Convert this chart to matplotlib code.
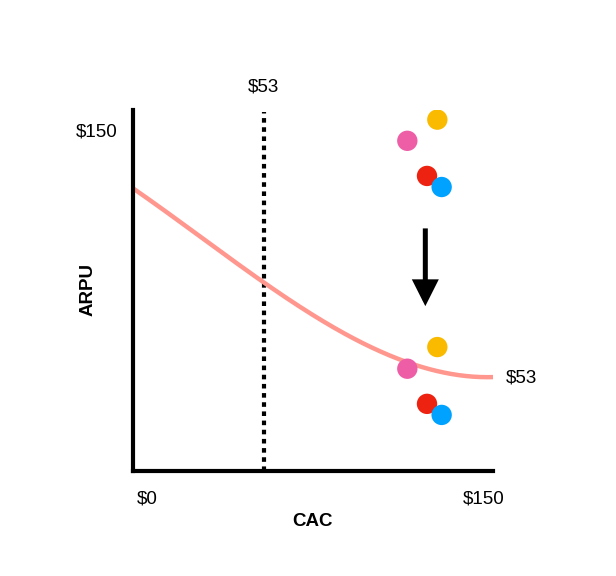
import matplotlib
matplotlib.use("Agg")
import matplotlib.pyplot as plt
import numpy as np

plt.rcParams['font.family'] = ['Liberation Sans', 'DejaVu Sans']

# Data
cac_marker = 54.5
curve_x = [0, 28, 54.5, 82, 114, 132, 150]
curve_y = [117.5, 97.5, 77.5, 62, 44, 41, 39]
dot_colors = ['#F9BA00', '#EE5EA6', '#EE2210', '#00A2FF']
top_x = [126.8, 114.3, 122.5, 128.6]
top_y = [146.0, 137.2, 122.6, 118.0]
bot_x = [126.8, 114.3, 122.5, 128.6]
bot_y = [51.5, 42.5, 27.9, 23.3]
arrow_x = 121.8
arrow_y_start = 100.8
arrow_y_end = 68.5

W, H = 616, 576
fig = plt.figure(figsize=(W/100, H/100), dpi=100)
ax = fig.add_axes([133/W, 1-471/H, (493-133)/W, (471-110)/H])
ax.set_xlim(0, 150)
ax.set_ylim(0, 150)
for s in ['top', 'right']:
    ax.spines[s].set_visible(False)
for s in ['left', 'bottom']:
    ax.spines[s].set_linewidth(3)
    ax.spines[s].set_color('black')
ax.set_xticks([])
ax.set_yticks([])

# smooth curve through points
xs = np.linspace(0, 150, 200)
coef = np.polyfit(curve_x, curve_y, 3)
ax.plot(xs, np.polyval(coef, xs), color='#FF978E', lw=3.2, solid_capstyle='butt', zorder=2)

ax.plot([cac_marker, cac_marker], [0, 149], color='black', lw=3, linestyle=(0, (1.1, 1.1)), zorder=1)

ax.scatter(top_x, top_y, s=215, c=dot_colors, zorder=3, linewidths=0)
ax.scatter(bot_x, bot_y, s=215, c=dot_colors, zorder=3, linewidths=0)

ax.annotate('', xy=(arrow_x, arrow_y_end), xytext=(arrow_x, arrow_y_start),
            arrowprops=dict(arrowstyle='-|>,head_length=1.35,head_width=0.68', color='black', lw=3.6,
                            shrinkA=0, shrinkB=0, joinstyle='miter', capstyle='butt'), zorder=3)

fs = 13.5
ax.text(cac_marker, 159.6, '$53', ha='center', va='center', fontsize=fs, clip_on=False)
ax.text(-15, 140.8, '$150', ha='center', va='center', fontsize=fs, clip_on=False)
ax.text(5.8, -11.8, '$0', ha='center', va='center', fontsize=fs, clip_on=False)
ax.text(146.3, -11.8, '$150', ha='center', va='center', fontsize=fs, clip_on=False)
ax.text(74.6, -20.9, 'CAC', ha='center', va='center', fontsize=fs, fontweight='bold', clip_on=False)
ax.text(-18.8, 75.4, 'ARPU', ha='center', va='center', fontsize=fs, fontweight='bold', rotation=90, clip_on=False)
ax.text(161.7, 38.8, '$53', ha='center', va='center', fontsize=fs, clip_on=False)

fig.savefig('out.png', dpi=100)
